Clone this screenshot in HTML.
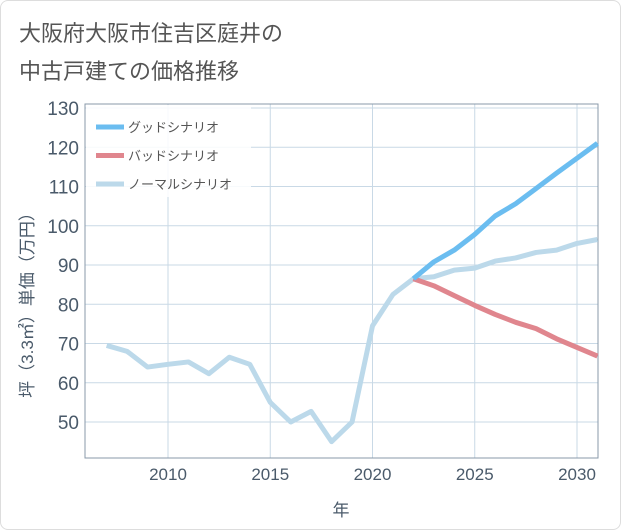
<!DOCTYPE html>
<html><head><meta charset="utf-8"><style>
body{margin:0;background:#fff;}
#wrap{position:relative;width:619px;height:528px;border:1px solid #ddd;border-radius:8px;background:#fff;overflow:hidden;}
svg text{font-family:"Liberation Sans","Noto Sans CJK JP",sans-serif;}
</style></head><body>
<div id="wrap">
<svg id="chart" width="621" height="530">
<text x="18" y="40" font-size="22" fill="#555">大阪府大阪市住吉区庭井の</text>
<text x="18" y="78" font-size="22" fill="#555">中古戸建ての価格推移</text>
</svg>
</div>
<script>
const years=[2007,2008,2009,2010,2011,2012,2013,2014,2015,2016,2017,2018,2019,2020,2021,2022,2023,2024,2025,2026,2027,2028,2029,2030,2031];
const normal=[69.5,68,64,64.7,65.3,62.3,66.5,64.7,55,50,52.7,45,50,74.5,82.5,86.5,87,88.7,89.2,91,91.8,93.2,93.8,95.5,96.5];
const futureYears=[2022,2023,2024,2025,2026,2027,2028,2029,2030,2031];
const good=[86.5,90.8,93.8,97.8,102.5,105.6,109.5,113.4,117.2,121];
const bad=[86.5,84.7,82.2,79.7,77.4,75.4,73.8,71.2,69,66.8];
const yTicks=[50,60,70,80,90,100,110,120,130];
const xTicks=[2010,2015,2020,2025,2030];
const L=84,R=597,T=103,B=457;
const xs=v=>167+(v-2010)*(409/20);
const ys=v=>421-(v-50)*(314/80);
const svg=document.getElementById('chart');
const NS='http://www.w3.org/2000/svg';
function mk(t,a){const e=document.createElementNS(NS,t);for(const k in a)e.setAttribute(k,a[k]);svg.appendChild(e);return e;}
yTicks.forEach(v=>{
const g=mk('line',{x1:L,x2:R,y1:ys(v),y2:ys(v),stroke:'#c9d9e6','stroke-width':1});


const t=mk('text',{x:L-6,y:ys(v)+7,'text-anchor':'end','font-size':19,fill:'#4a5a6a'});
t.textContent=v;


});
xTicks.forEach(v=>{
const g=mk('line',{x1:xs(v),x2:xs(v),y1:T,y2:B,stroke:'#c9d9e6','stroke-width':1});


const t=mk('text',{x:xs(v),y:B+22,'text-anchor':'middle','font-size':17,fill:'#4a5a6a'});
t.textContent=v;


});
const fr=mk('rect',{x:L,y:T,width:R-L,height:B-T,fill:'none',stroke:'#8899aa','stroke-width':1});


function line(xv,yv,c,name){
const p=mk('polyline',{points:xv.map((x,i)=>xs(x)+','+ys(yv[i])).join(' '),fill:'none',stroke:c,'stroke-width':5,'stroke-linejoin':'round'});


}
line(years,normal,'#bcd9ea','normal-scenario-line');
line(futureYears,bad,'#e0868e','bad-scenario-line');
line(futureYears,good,'#6bbdf0','good-scenario-line');
const lb=mk('rect',{x:L+1,y:T+1,width:165,height:92,fill:'#fff','fill-opacity':0.85});


[['グッドシナリオ','#6bbdf0'],['バッドシナリオ','#e0868e'],['ノーマルシナリオ','#bcd9ea']].forEach((d,i)=>{
const y=126+i*28.5;
const s=mk('line',{x1:95,x2:123,y1:y,y2:y,stroke:d[1],'stroke-width':5});


const t=mk('text',{x:127,y:y+5,'font-size':13,fill:'#555'});
t.textContent=d[0];


});
const xt=mk('text',{x:340,y:515,'text-anchor':'middle','font-size':17,fill:'#4a5a6a'});
xt.textContent='年';


const yt=mk('text',{x:0,y:0,'text-anchor':'middle','font-size':17,fill:'#4a5a6a',transform:'translate(32,300) rotate(-90)'});
yt.textContent='坪（3.3㎡）単価（万円）';


</script>
</body></html>
